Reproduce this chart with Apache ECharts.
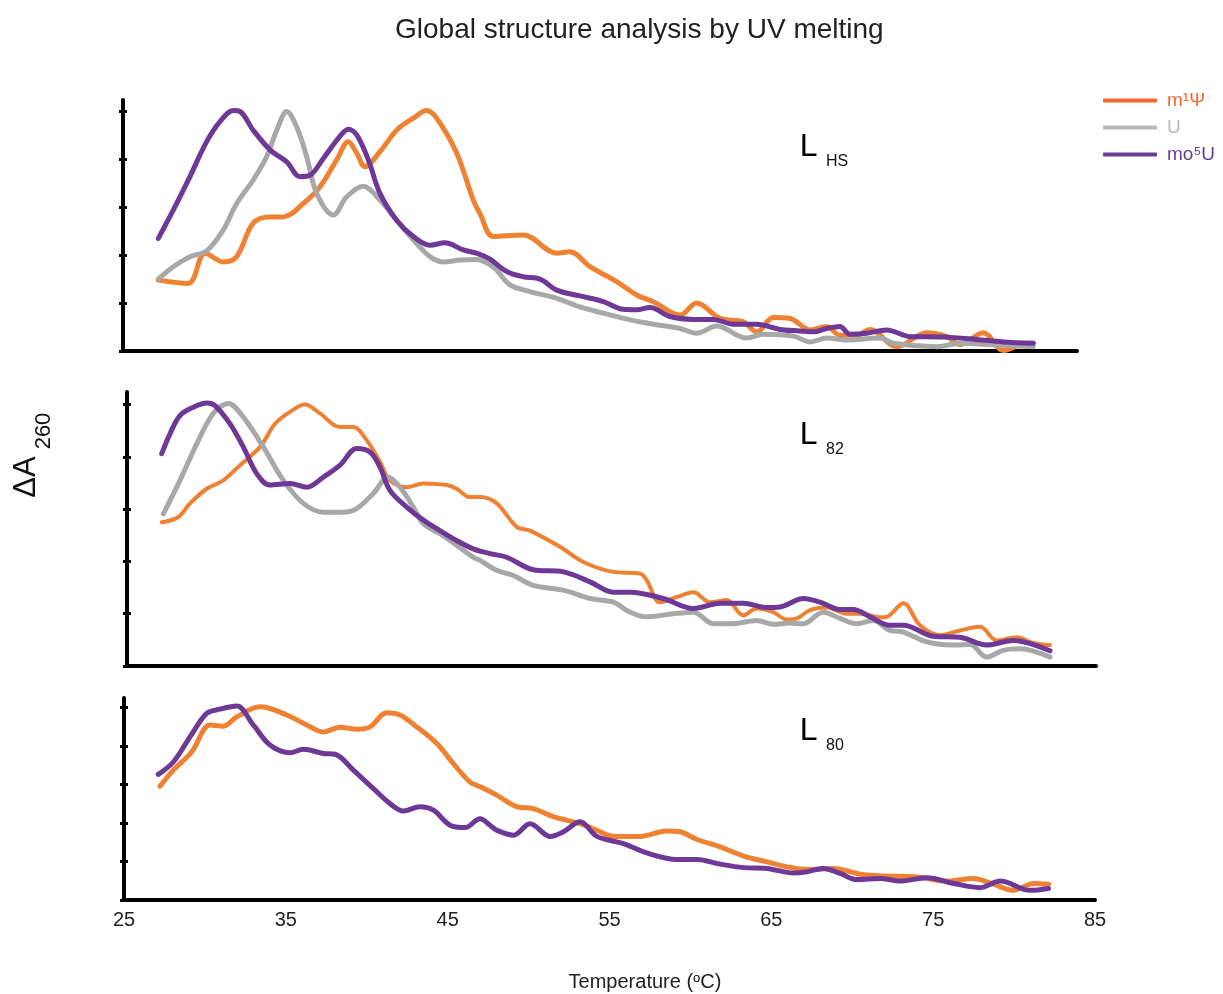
<!DOCTYPE html>
<html>
<head>
<meta charset="utf-8">
<script src="https://cdn.jsdelivr.net/npm/echarts@6/dist/echarts.min.js"></script>
<style>
html,body{margin:0;padding:0;background:#fff;}
#chart{width:1223px;height:994px;}
</style>
</head>
<body>
<div id="chart"></div>
<script>
// ---------- data (temperature °C, ΔA260 arbitrary units) ----------
const xTicks = [25, 35, 45, 55, 65, 75, 85];
const yTicks = [0, 1, 2, 3, 4, 5];
const seriesNames = ['m¹Ψ', 'U', 'mo⁵U'];
const panelNames = ['HS', '82', '80'];

const HS_M1PSI = [[27.22,1.48],[29.11,1.41],[30.16,2.04],[31.31,1.86],[32.15,1.97],[33.19,2.67],[34.25,2.80],[35.08,2.80],[36.34,3.08],[37.39,3.43],[38.44,3.99],[39.17,4.37],[39.70,4.13],[40.22,3.85],[41.16,4.16],[42.21,4.61],[43.26,4.86],[44.10,5.02],[44.73,4.86],[45.99,4.13],[47.03,3.15],[47.45,2.87],[48.29,2.39],[50.18,2.42],[52.28,2.04],[53.11,2.07],[54.37,1.76],[56.05,1.45],[57.31,1.17],[58.35,1.03],[60.03,0.75],[61.08,1.00],[62.55,0.68],[64.01,0.61],[64.86,0.40],[65.90,0.70],[66.95,0.68],[68.21,0.44],[69.26,0.51],[70.09,0.33],[71.14,0.33],[71.98,0.45],[73.66,0.09],[75.55,0.38],[76.81,0.30],[77.64,0.13],[79.11,0.38],[80.37,0.01],[81.42,0.13],[82.25,0.16]];
const HS_U = [[27.22,1.50],[28.16,1.76],[29.21,1.97],[30.26,2.09],[31.31,2.53],[32.15,3.08],[33.19,3.57],[34.04,4.06],[34.67,4.61],[35.30,5.00],[35.92,4.68],[36.55,4.06],[37.18,3.29],[38.23,2.84],[39.07,3.22],[40.11,3.44],[41.16,3.15],[42.21,2.73],[43.26,2.32],[44.31,1.97],[45.14,1.86],[46.19,1.90],[47.25,1.91],[48.08,1.80],[48.50,1.69],[49.34,1.38],[50.60,1.24],[52.28,1.10],[53.74,0.92],[55.21,0.79],[56.89,0.65],[58.35,0.56],[60.03,0.47],[61.08,0.37],[62.34,0.52],[64.23,0.27],[65.27,0.35],[67.16,0.31],[68.21,0.19],[69.26,0.27],[70.52,0.23],[72.61,0.27],[73.45,0.16],[76.18,0.09],[77.64,0.16],[79.74,0.13],[82.25,0.09]];
const HS_MO5U = [[27.22,2.35],[28.16,2.94],[29.21,3.64],[30.26,4.37],[31.10,4.79],[31.94,5.02],[32.36,5.00],[33.19,4.61],[34.25,4.20],[35.30,3.95],[36.13,3.64],[36.76,3.67],[37.60,4.02],[38.54,4.44],[39.17,4.63],[39.70,4.51],[40.43,3.99],[41.16,3.29],[42.21,2.73],[43.26,2.39],[44.31,2.21],[45.25,2.26],[46.40,2.11],[47.35,2.03],[48.08,1.92],[49.13,1.66],[50.18,1.55],[51.23,1.50],[52.28,1.27],[53.74,1.15],[55.21,1.03],[56.47,0.87],[57.31,0.86],[58.14,0.91],[59.40,0.72],[60.87,0.66],[62.13,0.66],[63.38,0.56],[64.86,0.56],[66.32,0.45],[67.58,0.42],[68.42,0.40],[69.26,0.47],[70.09,0.51],[70.72,0.35],[71.77,0.37],[73.03,0.44],[74.50,0.30],[76.59,0.29],[78.69,0.24],[80.37,0.19],[82.25,0.16]];

const L82_M1PSI = [[27.15,2.75],[28.18,2.85],[28.90,3.11],[29.94,3.39],[30.96,3.55],[32.00,3.84],[33.24,4.19],[34.16,4.63],[35.09,4.86],[36.02,5.00],[36.95,4.83],[38.19,4.57],[39.01,4.57],[39.84,4.32],[40.67,3.90],[41.28,3.55],[42.32,3.42],[43.35,3.49],[44.80,3.46],[45.41,3.39],[46.24,3.23],[46.86,3.23],[47.89,3.11],[49.13,2.66],[49.95,2.59],[51.81,2.28],[53.25,1.99],[55.11,1.80],[56.76,1.77],[57.18,1.64],[58.00,1.22],[59.04,1.32],[60.07,1.41],[61.10,1.22],[62.13,1.26],[63.16,0.97],[63.99,1.10],[65.02,1.03],[65.85,0.89],[66.47,0.91],[67.29,1.07],[68.33,1.12],[69.56,1.00],[70.39,1.00],[71.63,0.93],[72.04,0.94],[73.07,1.20],[74.10,0.78],[75.34,0.59],[76.58,0.68],[77.82,0.75],[78.85,0.49],[80.09,0.55],[81.12,0.44],[82.15,0.40]];
const L82_U = [[27.25,2.91],[28.28,3.55],[29.32,4.25],[30.34,4.83],[31.27,5.02],[32.20,4.76],[33.44,4.19],[34.68,3.55],[35.92,3.11],[37.15,2.94],[38.39,2.94],[39.22,3.01],[40.25,3.30],[41.18,3.61],[41.90,3.42],[42.73,3.04],[43.35,2.72],[44.38,2.53],[45.41,2.31],[46.44,2.08],[46.86,2.02],[47.89,1.83],[48.92,1.73],[50.16,1.54],[52.02,1.45],[53.67,1.29],[55.11,1.22],[56.15,1.03],[57.18,0.94],[58.83,1.00],[60.07,1.03],[61.30,0.81],[62.54,0.81],[63.99,0.87],[65.02,0.80],[66.05,0.82],[66.88,0.81],[68.11,1.03],[69.15,0.91],[70.18,0.81],[71.21,0.87],[72.24,0.68],[73.07,0.65],[74.52,0.46],[76.16,0.40],[77.20,0.41],[78.23,0.17],[79.26,0.30],[80.29,0.33],[82.15,0.17]];
const L82_MO5U = [[27.15,4.06],[27.66,4.44],[28.28,4.79],[29.11,4.95],[29.94,5.03],[30.45,4.98],[31.38,4.63],[32.20,4.19],[33.03,3.68],[33.85,3.46],[35.09,3.49],[36.13,3.42],[37.15,3.61],[38.19,3.84],[39.22,4.16],[40.05,4.09],[40.67,3.80],[41.28,3.36],[42.32,3.04],[43.35,2.79],[44.38,2.59],[45.41,2.40],[46.44,2.24],[47.48,2.15],[48.51,2.08],[50.16,1.84],[52.02,1.80],[53.67,1.61],[55.11,1.41],[56.15,1.41],[58.21,1.29],[60.07,1.10],[61.72,1.20],[63.16,1.20],[64.61,1.12],[65.43,1.13],[66.88,1.29],[67.91,1.22],[69.15,1.08],[69.97,1.08],[71.01,0.94],[72.24,0.78],[73.07,0.78],[74.93,0.57],[76.58,0.55],[78.23,0.40],[79.88,0.49],[82.15,0.29]];

const L80_M1PSI = [[27.22,2.95],[28.05,3.37],[29.18,3.84],[30.32,4.54],[31.14,4.51],[31.97,4.75],[33.41,5.01],[35.06,4.80],[36.29,4.54],[37.32,4.36],[38.35,4.48],[39.38,4.43],[40.20,4.49],[41.24,4.86],[42.06,4.80],[43.09,4.49],[44.33,4.06],[45.35,3.54],[46.38,3.06],[47.00,2.94],[48.03,2.72],[49.27,2.42],[50.30,2.37],[51.53,2.16],[53.18,1.98],[54.22,1.81],[55.24,1.65],[56.89,1.65],[58.54,1.79],[59.36,1.77],[60.40,1.57],[61.84,1.38],[63.28,1.14],[64.72,0.99],[65.96,0.86],[67.19,0.79],[68.84,0.82],[70.49,0.67],[72.14,0.62],[73.99,0.60],[75.85,0.49],[77.49,0.56],[78.73,0.41],[79.96,0.25],[81.20,0.43],[82.13,0.41]];
const L80_MO5U = [[27.12,3.26],[28.05,3.58],[29.08,4.23],[30.11,4.84],[30.93,4.95],[31.97,5.03],[32.99,4.54],[34.02,4.02],[35.26,3.82],[36.08,3.91],[37.32,3.80],[38.04,3.78],[39.17,3.37],[40.41,2.89],[41.44,2.50],[42.26,2.31],[43.29,2.42],[44.12,2.33],[45.15,1.94],[46.08,1.88],[47.00,2.11],[47.62,1.94],[48.03,1.81],[49.06,1.68],[50.09,1.98],[51.33,1.65],[52.15,1.77],[53.18,2.03],[54.22,1.65],[55.86,1.46],[57.31,1.22],[59.16,1.05],[60.40,1.05],[61.84,0.93],[63.28,0.84],[64.72,0.82],[66.37,0.70],[67.19,0.73],[68.22,0.82],[69.25,0.69],[70.28,0.53],[71.72,0.56],[72.96,0.49],[74.61,0.58],[76.26,0.43],[77.90,0.32],[79.14,0.49],[81.00,0.25],[82.13,0.30]];

// ---------- styling ----------
const FONT = '"Liberation Sans", Arial, Helvetica, sans-serif';
const lineColors = ['#ef8133', '#a8a8a8', '#6e3897'];
const legendColors = ['#f0692c', '#b8b8bc', '#6a3c9a'];
const CHART_W = 1223;

const panels = [
  { grid: { left: 123, right: 146, top: 100, height: 251 }, series: [HS_M1PSI, HS_U, HS_MO5U], widths: [5, 5, 5] },
  { grid: { left: 127, right: 127, top: 392, height: 274 }, series: [L82_M1PSI, L82_U, L82_MO5U], widths: [4, 5, 5] },
  { grid: { left: 124, right: 128, top: 698, height: 202 }, series: [L80_M1PSI, null, L80_MO5U], widths: [5, 5, 5] }
];
const Y_MAX = 5.24;

const grids = [], xAxes = [], yAxes = [], series = [];
panels.forEach((p, i) => {
  grids.push(Object.assign({ containLabel: false }, p.grid));
  const gridW = CHART_W - p.grid.left - p.grid.right;
  xAxes.push({
    type: 'value', gridIndex: i, min: xTicks[0], max: xTicks[xTicks.length - 1], interval: 10,
    axisLine: { show: true, onZero: false, lineStyle: { color: '#000', width: 4 } },
    axisTick: { show: true, length: 2, lineStyle: { color: '#000', width: 2 } },
    axisLabel: { show: i === 2, fontSize: 20, color: '#222', margin: 10, fontFamily: FONT },
    splitLine: { show: false }
  });
  // main y axis: line + ticks pointing left
  yAxes.push({
    type: 'value', gridIndex: i, min: 0, max: Y_MAX, position: 'left',
    axisLine: { show: true, lineStyle: { color: '#000', width: 4 } },
    axisTick: { show: true, inside: false, length: 4, customValues: yTicks, lineStyle: { color: '#000', width: 3 } },
    axisLabel: { show: false },
    splitLine: { show: false }
  });
  // overlay axis moved onto the left edge: ticks pointing right (ticks cross the axis line)
  yAxes.push({
    type: 'value', gridIndex: i, min: 0, max: Y_MAX, position: 'right', offset: -gridW,
    axisLine: { show: false },
    axisTick: { show: true, inside: false, length: 4, customValues: yTicks, lineStyle: { color: '#000', width: 3 } },
    axisLabel: { show: false },
    splitLine: { show: false }
  });
  p.series.forEach((d, k) => {
    if (!d) return;
    series.push({
      name: seriesNames[k], type: 'line', xAxisIndex: i, yAxisIndex: 2 * i,
      data: d, smooth: 0.35, symbol: 'none', showSymbol: false,
      lineStyle: { color: lineColors[k], width: p.widths[k], cap: 'round', join: 'round' },
      itemStyle: { color: lineColors[k] },
      z: 3 + k, animation: false
    });
  });
});

const panelLabelTop = [146.7, 435, 731];
const graphics = [];
panelNames.forEach((nm, i) => {
  graphics.push({ type: 'text', x: 808.7, y: panelLabelTop[i], style: { text: 'L', fontSize: 32, fontFamily: FONT, fill: '#000', align: 'center', verticalAlign: 'middle' } });
  graphics.push({ type: 'text', x: 826, y: panelLabelTop[i] + 15, style: { text: nm, fontSize: 16, fontFamily: FONT, fill: '#111', align: 'left', verticalAlign: 'middle' } });
});
// y-axis name ΔA260 (rotated)
graphics.push({ type: 'text', x: 26, y: 477, rotation: Math.PI / 2, style: { text: 'ΔA', fontSize: 31, fontFamily: FONT, fill: '#111', align: 'center', verticalAlign: 'middle' } });
graphics.push({ type: 'text', x: 43.5, y: 431, rotation: Math.PI / 2, style: { text: '260', fontSize: 22, fontFamily: FONT, fill: '#111', align: 'center', verticalAlign: 'middle' } });
// x-axis name
graphics.push({ type: 'text', x: 645, y: 982, style: {
  text: '{n|Temperature (}{s|o}{n|C)}', align: 'center', verticalAlign: 'middle',
  rich: { n: { fontSize: 20, fontFamily: FONT, fill: '#222', color: '#222' }, s: { fontSize: 13, fontFamily: FONT, color: '#222', padding: [0, 0, 8, 0] } }
} });

const chart = echarts.init(document.getElementById('chart'), null, { renderer: 'canvas' });
chart.setOption({
  animation: false,
  backgroundColor: '#fff',
  title: { text: 'Global structure analysis by UV melting', left: 390, top: 11, textStyle: { fontSize: 28, fontWeight: 'normal', color: '#222', fontFamily: FONT } },
  legend: {
    orient: 'vertical', left: 1098, top: 86, itemWidth: 54, itemHeight: 4, itemGap: 8, icon: 'roundRect',
    textStyle: { fontSize: 19, fontFamily: FONT, padding: [0, 0, 0, 5] },
    data: seriesNames.map((n, k) => ({ name: n, itemStyle: { color: legendColors[k] }, textStyle: { color: legendColors[k] } }))
  },
  grid: grids, xAxis: xAxes, yAxis: yAxes, series: series, graphic: graphics
});
</script>
</body>
</html>
